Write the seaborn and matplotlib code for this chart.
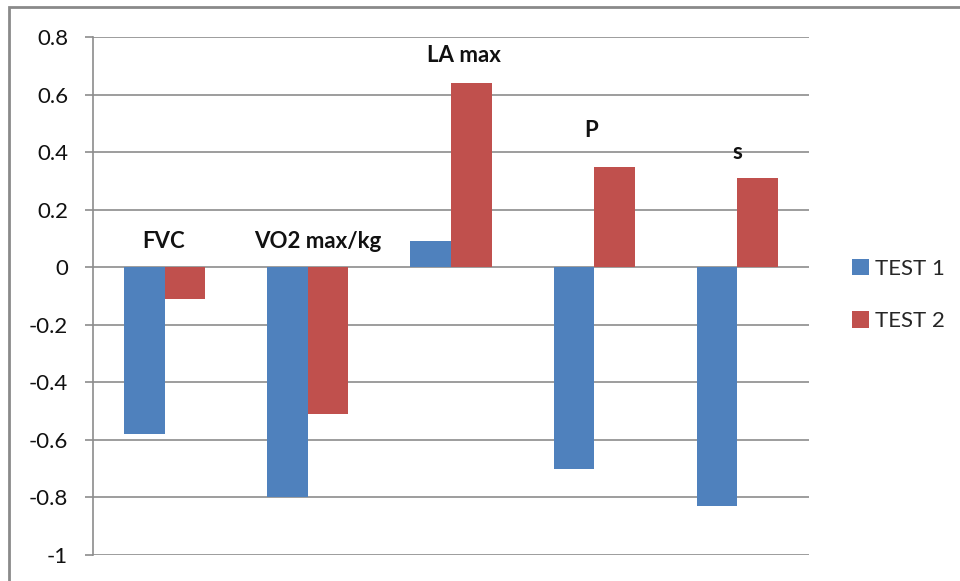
import matplotlib
matplotlib.use("Agg")
import matplotlib.pyplot as plt
import seaborn as sns
import pandas as pd
from matplotlib.patches import Rectangle, Patch

categories = ["FVC", "VO2 max/kg", "LA max", "P", "s"]
test1 = [-0.58, -0.80, 0.09, -0.70, -0.83]
test2 = [-0.11, -0.51, 0.64, 0.35, 0.31]
series_names = ["TEST 1", "TEST 2"]
label_x_offsets = [-0.01, 0.07, 0.09, -0.02, 0.0]
label_y = [0.09, 0.09, 0.735, 0.475, 0.40]
yticks = [-1, -0.8, -0.6, -0.4, -0.2, 0, 0.2, 0.4, 0.6, 0.8]
ytick_labels = ["-1", "-0.8", "-0.6", "-0.4", "-0.2", "0", "0.2", "0.4", "0.6", "0.8"]

colors = ["#4F81BD", "#C0504D"]

df = pd.DataFrame({
    "category": categories * 2,
    "value": test1 + test2,
    "series": [series_names[0]] * len(categories) + [series_names[1]] * len(categories),
})

sns.set_style("white")
plt.rcParams["font.family"] = ["Lato", "DejaVu Sans"]

fig = plt.figure(figsize=(9.6, 5.81), dpi=100)
ax = fig.add_axes([93 / 960, 1 - 555 / 581, (809 - 93) / 960, (555 - 37) / 581])

sns.barplot(data=df, x="category", y="value", hue="series", palette=colors,
            width=0.566, ax=ax, legend=False, saturation=1, errorbar=None,
            edgecolor="none", linewidth=0)

ax.set_xlim(-0.5, len(categories) - 0.5)
ax.set_ylim(-1, 0.8)
ax.set_yticks(yticks)
ax.set_yticklabels(ytick_labels)
ax.set_xticks([])
ax.set_xlabel("")
ax.set_ylabel("")

grid_color = "#8C8C8C"
ax.yaxis.grid(True, color=grid_color, linewidth=1.2)
ax.set_axisbelow(True)
for s in ["top", "right", "bottom"]:
    ax.spines[s].set_visible(False)
ax.spines["left"].set_color(grid_color)
ax.spines["left"].set_linewidth(1.2)
ax.tick_params(axis="y", which="both", left=True, length=6, width=1.2,
               color=grid_color, pad=12, labelsize=16, labelcolor="#111111")

for i, cat in enumerate(categories):
    ax.text(i + label_x_offsets[i], label_y[i], cat, ha="center", va="center",
            fontsize=16, fontweight="bold", color="#111111")

handles = [Patch(facecolor=c, edgecolor="none") for c in colors]
fig.legend(handles, series_names, loc="center left",
           bbox_to_anchor=(832 / 960, 1 - 295 / 581), frameon=False,
           fontsize=16, handlelength=0.75, handleheight=0.75,
           handletextpad=0.3, labelspacing=1.45)

fig.patches.append(Rectangle((9 / 960, -0.1), 2.0, 1 - 7 / 581 + 0.1,
                             transform=fig.transFigure, fill=False,
                             edgecolor="#8A8A8A", linewidth=2))

fig.savefig("out.png", dpi=100)
